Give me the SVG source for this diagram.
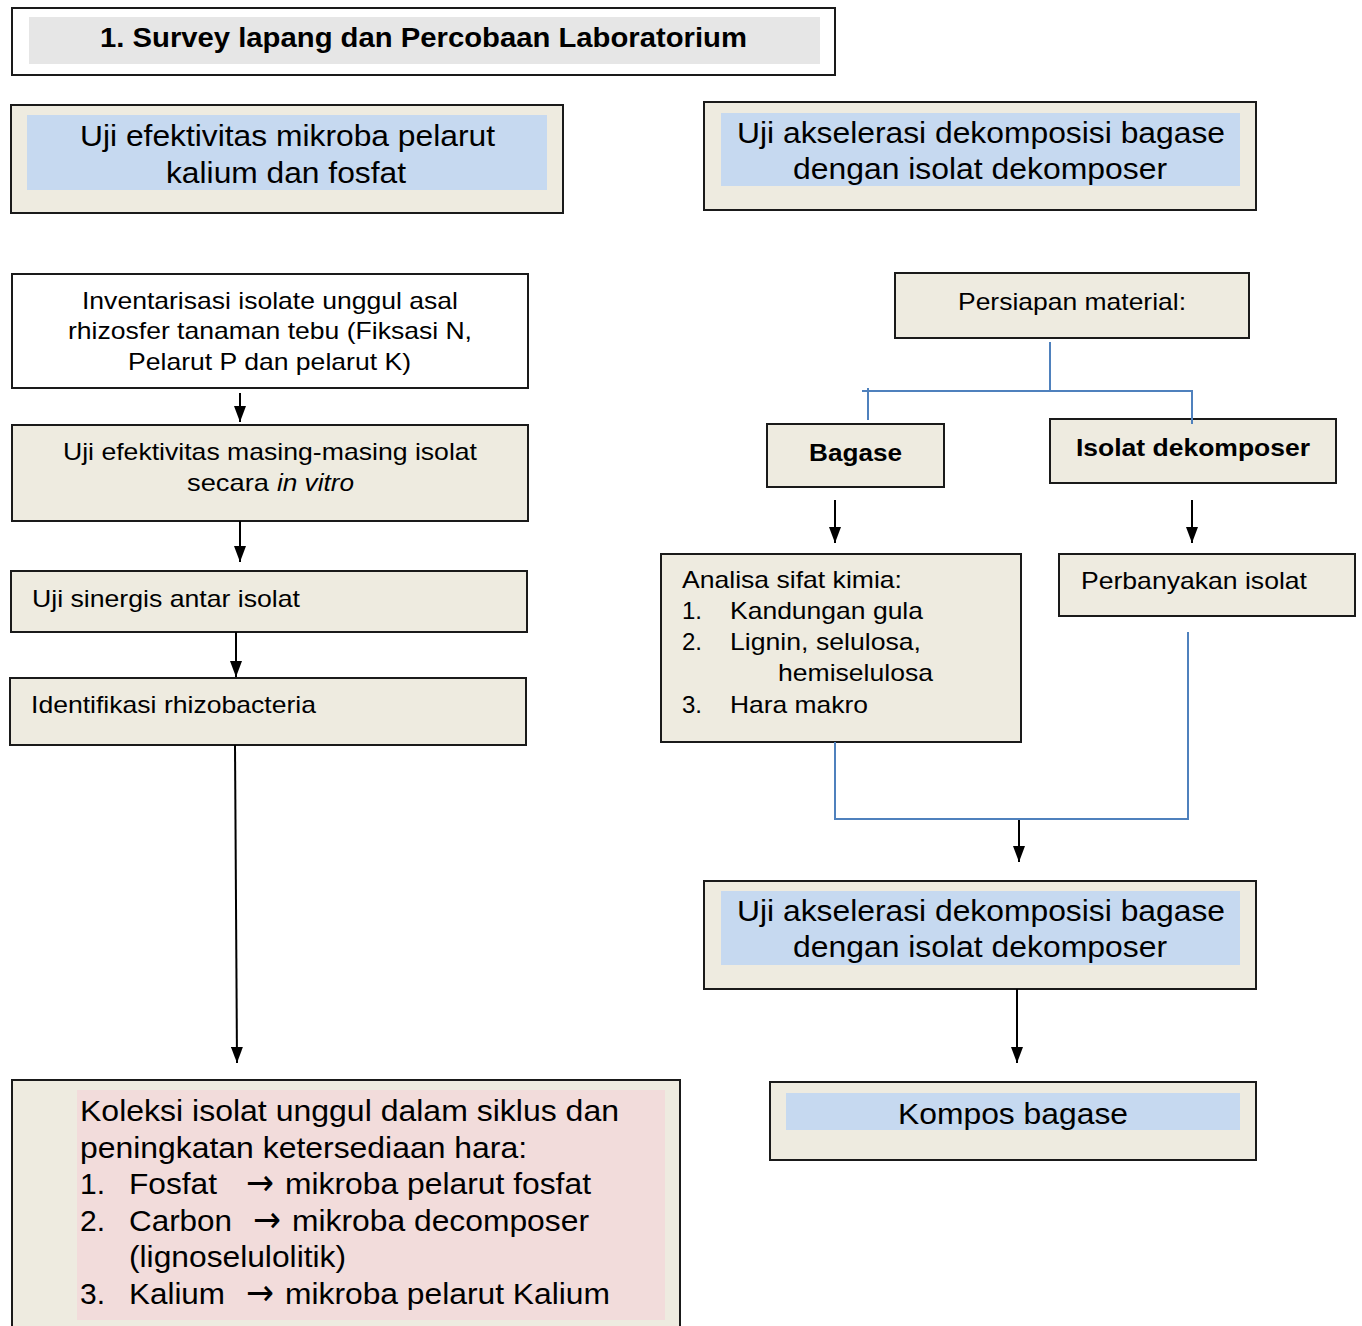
<svg xmlns="http://www.w3.org/2000/svg" width="1362" height="1326" viewBox="0 0 1362 1326">
<defs>
<marker id="ah" markerUnits="userSpaceOnUse" markerWidth="16" markerHeight="12" refX="16" refY="6" orient="auto">
<path d="M0,0 L16,6 L0,12 z" fill="#000"/>
</marker>
<style>
.box{stroke:#1a1a1a;stroke-width:2;fill:#EEEBE0}
.wbox{stroke:#1a1a1a;stroke-width:2;fill:#fff}
.blue{fill:#C6D9F0}
.grey{fill:#E6E6E6}
.pink{fill:#F2DCDB}
text{font-family:"Liberation Sans",Arial,sans-serif;fill:#000}
.big{font-size:30px}
.mid{font-size:24px}
.b{font-weight:bold}
.c{text-anchor:middle}
.ar{font-family:"DejaVu Sans",sans-serif;font-size:36px}
.arr{stroke:#000;stroke-width:2;fill:none;marker-end:url(#ah)}
.bl{stroke:#4F81BD;stroke-width:2;fill:none}
</style>
</defs>

<g id="title">
<rect x="12" y="8" width="823" height="67" class="wbox"/>
<rect x="29" y="17" width="791" height="47" class="grey"/>
<text x="100" y="47" class="b" font-size="27" textLength="647" lengthAdjust="spacingAndGlyphs">1. Survey lapang dan Percobaan Laboratorium</text>
</g>

<g id="boxA">
<rect x="11" y="105" width="552" height="108" class="box"/>
<rect x="27" y="115" width="520" height="75" class="blue"/>
<text x="80" y="146" class="big" textLength="415" lengthAdjust="spacingAndGlyphs">Uji efektivitas mikroba pelarut</text>
<text x="166" y="183" class="big" textLength="240" lengthAdjust="spacingAndGlyphs">kalium dan fosfat</text>
</g>

<g id="boxB">
<rect x="704" y="102" width="552" height="108" class="box"/>
<rect x="721" y="113" width="519" height="73" class="blue"/>
<text x="737" y="143" class="big" textLength="488" lengthAdjust="spacingAndGlyphs">Uji akselerasi dekomposisi bagase</text>
<text x="793" y="179" class="big" textLength="374" lengthAdjust="spacingAndGlyphs">dengan isolat dekomposer</text>
</g>

<g id="inventarisasi">
<rect x="12" y="274" width="516" height="114" class="wbox"/>
<text x="82" y="309" class="mid" textLength="376" lengthAdjust="spacingAndGlyphs">Inventarisasi isolate unggul asal</text>
<text x="68" y="339" class="mid" textLength="404" lengthAdjust="spacingAndGlyphs">rhizosfer tanaman tebu (Fiksasi N,</text>
<text x="128" y="370" class="mid" textLength="283" lengthAdjust="spacingAndGlyphs">Pelarut P dan pelarut K)</text>
</g>

<g id="ujiEfektivitas">
<rect x="12" y="425" width="516" height="96" class="box"/>
<text x="63" y="460" class="mid" textLength="414" lengthAdjust="spacingAndGlyphs">Uji efektivitas masing-masing isolat</text>
<text x="187" y="491" class="mid" textLength="82" lengthAdjust="spacingAndGlyphs">secara</text>
<text x="277" y="491" class="mid" font-style="italic" textLength="77" lengthAdjust="spacingAndGlyphs">in vitro</text>
</g>

<g id="ujiSinergis">
<rect x="11" y="571" width="516" height="61" class="box"/>
<text x="32" y="607" class="mid" textLength="268" lengthAdjust="spacingAndGlyphs">Uji sinergis antar isolat</text>
</g>

<g id="identifikasi">
<rect x="10" y="678" width="516" height="67" class="box"/>
<text x="31" y="713" class="mid" textLength="285" lengthAdjust="spacingAndGlyphs">Identifikasi rhizobacteria</text>
</g>

<g id="koleksi">
<rect x="12" y="1080" width="668" height="260" class="box"/>
<rect x="77" y="1090" width="588" height="230" class="pink"/>
<text x="80" y="1121" class="big" textLength="539" lengthAdjust="spacingAndGlyphs">Koleksi isolat unggul dalam siklus dan</text>
<text x="80" y="1158" class="big" textLength="447" lengthAdjust="spacingAndGlyphs">peningkatan ketersediaan hara:</text>
<text x="80" y="1194" class="big">1.</text>
<text x="129" y="1194" class="big" textLength="88" lengthAdjust="spacingAndGlyphs">Fosfat</text>
<text x="246" y="1195" class="ar" textLength="28" lengthAdjust="spacingAndGlyphs">→</text>
<text x="285" y="1194" class="big" textLength="306" lengthAdjust="spacingAndGlyphs">mikroba pelarut fosfat</text>
<text x="80" y="1231" class="big">2.</text>
<text x="129" y="1231" class="big" textLength="103" lengthAdjust="spacingAndGlyphs">Carbon</text>
<text x="253" y="1232" class="ar" textLength="28" lengthAdjust="spacingAndGlyphs">→</text>
<text x="292" y="1231" class="big" textLength="297" lengthAdjust="spacingAndGlyphs">mikroba decomposer</text>
<text x="129" y="1267" class="big" textLength="217" lengthAdjust="spacingAndGlyphs">(lignoselulolitik)</text>
<text x="80" y="1304" class="big">3.</text>
<text x="129" y="1304" class="big" textLength="96" lengthAdjust="spacingAndGlyphs">Kalium</text>
<text x="246" y="1305" class="ar" textLength="28" lengthAdjust="spacingAndGlyphs">→</text>
<text x="285" y="1304" class="big" textLength="325" lengthAdjust="spacingAndGlyphs">mikroba pelarut Kalium</text>
</g>

<g id="persiapan">
<rect x="895" y="273" width="354" height="65" class="box"/>
<text x="958" y="310" class="mid" textLength="228" lengthAdjust="spacingAndGlyphs">Persiapan material:</text>
</g>

<g id="bagase">
<rect x="767" y="424" width="177" height="63" class="box"/>
<text x="809" y="461" class="mid b" textLength="93" lengthAdjust="spacingAndGlyphs">Bagase</text>
</g>

<g id="isolatDekomposer">
<rect x="1050" y="419" width="286" height="64" class="box"/>
<text x="1076" y="456" class="mid b" textLength="234" lengthAdjust="spacingAndGlyphs">Isolat dekomposer</text>
</g>

<g id="analisa">
<rect x="661" y="554" width="360" height="188" class="box"/>
<text x="682" y="588" class="mid" textLength="220" lengthAdjust="spacingAndGlyphs">Analisa sifat kimia:</text>
<text x="682" y="619" class="mid">1.</text>
<text x="730" y="619" class="mid" textLength="193" lengthAdjust="spacingAndGlyphs">Kandungan gula</text>
<text x="682" y="650" class="mid">2.</text>
<text x="730" y="650" class="mid" textLength="191" lengthAdjust="spacingAndGlyphs">Lignin, selulosa,</text>
<text x="778" y="681" class="mid" textLength="155" lengthAdjust="spacingAndGlyphs">hemiselulosa</text>
<text x="682" y="713" class="mid">3.</text>
<text x="730" y="713" class="mid" textLength="138" lengthAdjust="spacingAndGlyphs">Hara makro</text>
</g>

<g id="perbanyakan">
<rect x="1059" y="554" width="296" height="62" class="box"/>
<text x="1081" y="589" class="mid" textLength="226" lengthAdjust="spacingAndGlyphs">Perbanyakan isolat</text>
</g>

<g id="boxC">
<rect x="704" y="881" width="552" height="108" class="box"/>
<rect x="721" y="891" width="519" height="74" class="blue"/>
<text x="737" y="921" class="big" textLength="488" lengthAdjust="spacingAndGlyphs">Uji akselerasi dekomposisi bagase</text>
<text x="793" y="957" class="big" textLength="374" lengthAdjust="spacingAndGlyphs">dengan isolat dekomposer</text>
</g>

<g id="kompos">
<rect x="770" y="1082" width="486" height="78" class="box"/>
<rect x="786" y="1093" width="454" height="37" class="blue"/>
<text x="898" y="1124" class="big" textLength="230" lengthAdjust="spacingAndGlyphs">Kompos bagase</text>
</g>

<g id="connectors">
<line x1="240" y1="393" x2="240" y2="422" class="arr"/>
<line x1="240" y1="521" x2="240" y2="562" class="arr"/>
<line x1="236" y1="632" x2="236" y2="677" class="arr"/>
<line x1="235" y1="745" x2="237" y2="1063" class="arr"/>
<line x1="835" y1="500" x2="835" y2="543" class="arr"/>
<line x1="1192" y1="500" x2="1192" y2="543" class="arr"/>
<line x1="1019" y1="819" x2="1019" y2="862" class="arr"/>
<line x1="1017" y1="989" x2="1017" y2="1063" class="arr"/>
<path d="M1050,342 V391 M862,391 H1192 V424 M868,388 V420" class="bl"/>
<path d="M835,742 V819 H1188 V632" class="bl"/>
</g>
</svg>
